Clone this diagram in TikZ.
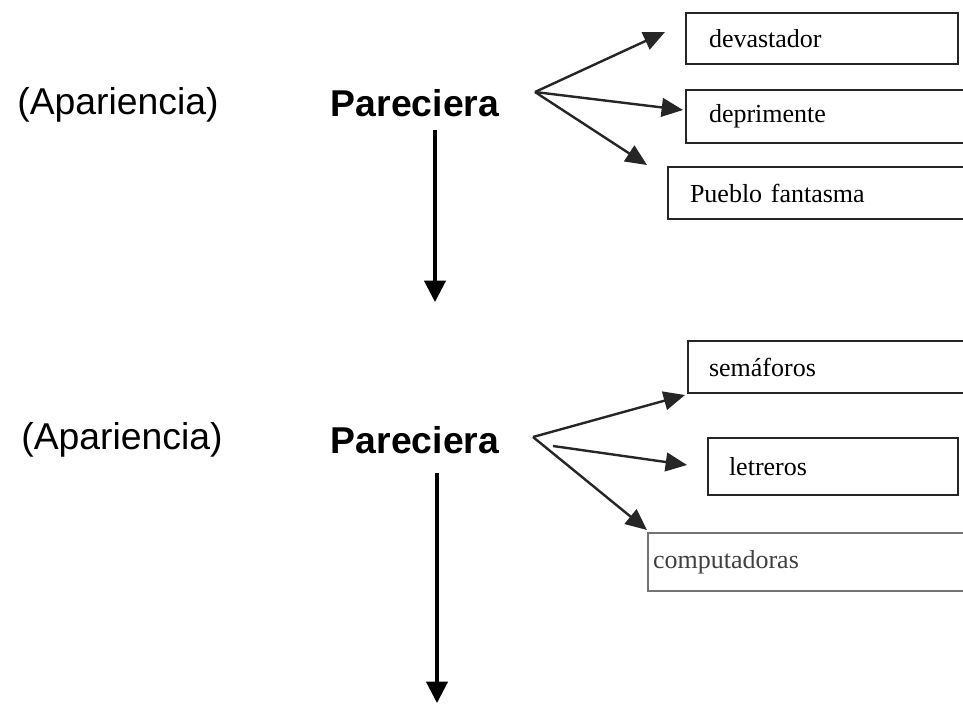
\documentclass[tikz,border=0pt]{standalone}
\usepackage{fontspec}
\setmainfont{Liberation Serif}
\newfontfamily\arialfont{Liberation Sans}
\usetikzlibrary{arrows.meta}
\begin{document}
\begin{tikzpicture}[x=0.75pt,y=-0.75pt,
  lbl/.style={font=\arialfont\fontsize{28}{32}\selectfont, inner sep=0pt},
  par/.style={font=\arialfont\bfseries\fontsize{28}{32}\selectfont, inner sep=0pt},
  box/.style={draw=black!85, line width=1.5pt, anchor=north west, align=left,
    inner ysep=0pt, font=\fontsize{19.5}{22}\selectfont},
  fan/.style={draw=black!85, line width=1.8pt, -{Triangle[length=16pt,width=14pt]}},
  vert/.style={draw=black, line width=2.3pt, -{Triangle[length=16pt,width=16pt]}}]
\useasboundingbox (0,0) rectangle (963,704);
\clip (0,0) rectangle (963,704);
\fill[white] (0,0) rectangle (963,704);

% top group
\node[lbl] (a1) at (118,105) {(Apariencia)};
\node[par] (p1) at (415,103) {Pareciera};
\coordinate (f1) at (535,92);
\node[box, minimum width=204pt, minimum height=38.25pt, inner xsep=17.25pt, text width=169.5pt] (b1) at (685,12) {devastador};
\node[box, minimum width=217.5pt, minimum height=39.75pt, inner xsep=17.25pt, text width=183pt] (b2) at (685,89) {deprimente};
\node[box, minimum width=231pt, minimum height=39pt, inner xsep=16.5pt, text width=198pt] (b3) at (667,166) {Pueblo fantasma};
\coordinate (t1) at (665,32);
\coordinate (t2) at (683,110);
\coordinate (t3) at (647,165);
\draw[fan] (f1) -- (t1);
\draw[fan] (f1) -- (t2);
\draw[fan] (f1) -- (t3);
\coordinate (v1) at (435,302);
\draw[vert, shorten <=10pt] (p1.south -| v1) -- (v1);

% bottom group
\node[lbl] (a2) at (122,440) {(Apariencia)};
\node[par] (p2) at (415,440) {Pareciera};
\coordinate (f2) at (533,437);
\coordinate (f2b) at (553,446);
\node[box, minimum width=216pt, minimum height=39pt, inner xsep=15.75pt, text width=184.5pt] (b4) at (687,340) {semáforos};
\node[box, minimum width=187.5pt, minimum height=42.75pt, inner xsep=15.75pt, text width=156pt] (b5) at (707,437) {letreros};
\node[box, draw=black!55, text=black!75, minimum width=246pt, minimum height=43.5pt, inner xsep=3.75pt, text width=238.5pt] (b6) at (647,532) {computadoras};
\coordinate (t4) at (685,395);
\coordinate (t5) at (687,465);
\coordinate (t6) at (647,530);
\draw[fan] (f2) -- (t4);
\draw[fan] (f2b) -- (t5);
\draw[fan] (f2) -- (t6);
\coordinate (v2) at (437,703);
\draw[vert, shorten <=14pt] (p2.south -| v2) -- (v2);
\end{tikzpicture}
\end{document}
